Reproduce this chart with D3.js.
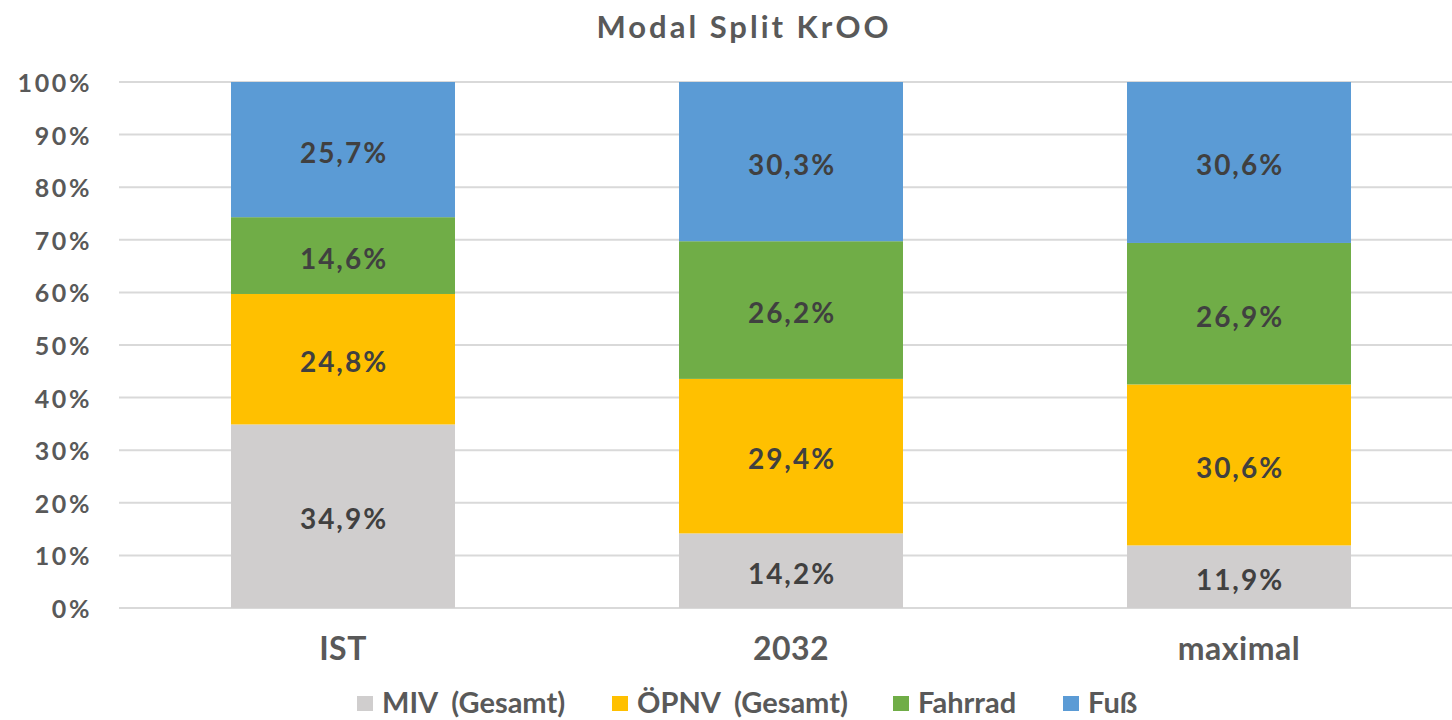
<!DOCTYPE html>
<html>
<head>
  <meta charset="utf-8">
  <script src="https://d3js.org/d3.v7.min.js"></script>
  <style>
    body { margin: 0; background: #fff; }
    text { font-family: Lato, "Open Sans", sans-serif; font-weight: bold; }
  </style>
</head>
<body>
  <div id="chart"></div>
  <script>
  var categories = ["IST", "2032", "maximal"];
  var seriesNames = ["MIV  (Gesamt)", "ÖPNV  (Gesamt)", "Fahrrad", "Fuß"];
  var miv = [34.9, 14.2, 11.9];
  var oepnv = [24.8, 29.4, 30.6];
  var fahrrad = [14.6, 26.2, 26.9];
  var fuss = [25.7, 30.3, 30.6];
  var yTicks = [0, 0.1, 0.2, 0.3, 0.4, 0.5, 0.6, 0.7, 0.8, 0.9, 1];
  var colors = ["#D0CECE", "#FFC000", "#70AD47", "#5B9BD5"];

  var W = 1452, H = 720;
  var svg = d3.select("#chart").append("svg")
      .attr("width", W).attr("height", H);

  var rows = categories.map(function(c, i) {
    return { cat: c, s0: miv[i], s1: oepnv[i], s2: fahrrad[i], s3: fuss[i] };
  });
  var stack = d3.stack().keys(["s0", "s1", "s2", "s3"]).offset(d3.stackOffsetExpand);
  var layers = stack(rows);

  var x = d3.scaleBand().domain(categories).range([119, 1463]).paddingInner(0.5).paddingOuter(0.25);
  var y = d3.scaleLinear().domain([0, 1]).range([608, 82]);

  // title
  svg.append("text").attr("x", 744).attr("y", 38).attr("text-anchor", "middle")
    .attr("font-size", 31).attr("letter-spacing", 3).attr("fill", "#595959").text("Modal Split KrOO");

  // grid
  svg.append("g").selectAll("line").data(yTicks).enter().append("line")
    .attr("x1", 119).attr("x2", W)
    .attr("y1", function(d) { return y(d); }).attr("y2", function(d) { return y(d); })
    .attr("stroke", "#D9D9D9").attr("stroke-width", 2);

  svg.append("g").selectAll("text").data(yTicks).enter().append("text")
    .attr("x", 92).attr("y", function(d) { return y(d) + 10; })
    .attr("text-anchor", "end").attr("font-size", 25).attr("letter-spacing", 2.6).attr("fill", "#595959")
    .text(function(d) { return Math.round(d * 100) + "%"; });

  // bars
  var g = svg.append("g").selectAll("g").data(layers).enter().append("g")
    .attr("fill", function(d, i) { return colors[i]; });
  g.selectAll("rect").data(function(d) { return d; }).enter().append("rect")
    .attr("x", function(d) { return x(d.data.cat); })
    .attr("width", x.bandwidth())
    .attr("y", function(d) { return y(d[1]); })
    .attr("height", function(d) { return y(d[0]) - y(d[1]); });

  var lg = svg.append("g").selectAll("g").data(layers).enter().append("g");
  lg.selectAll("text").data(function(d) {
      return d.map(function(p) { return { p: p, key: d.key }; });
    }).enter().append("text")
    .attr("x", function(d) { return x(d.p.data.cat) + x.bandwidth() / 2 + 1; })
    .attr("y", function(d) { return (y(d.p[0]) + y(d.p[1])) / 2 + 13; })
    .attr("text-anchor", "middle").attr("font-size", 28).attr("letter-spacing", 2).attr("fill", "#404040")
    .text(function(d) { return d3.format(".1f")(d.p.data[d.key]).replace(".", ",") + "%"; });

  // x labels
  svg.append("g").selectAll("text").data(categories).enter().append("text")
    .attr("x", function(d) { return x(d) + x.bandwidth() / 2; })
    .attr("y", 660).attr("text-anchor", "middle").attr("font-size", 32).attr("letter-spacing", 0.5).attr("fill", "#595959")
    .text(function(d) { return d; });

  // legend
  var legendX = [357, 612, 893, 1063];
  var leg = svg.append("g").selectAll("g").data(seriesNames).enter().append("g")
    .attr("transform", function(d, i) { return "translate(" + legendX[i] + ",696)"; });
  leg.append("rect").attr("width", 16).attr("height", 15)
    .attr("fill", function(d, i) { return colors[i]; });
  leg.append("text").attr("x", 25).attr("y", 17).attr("font-size", 29).attr("fill", "#595959")
    .style("white-space", "pre")
    .text(function(d) { return d; });
  </script>
</body>
</html>
